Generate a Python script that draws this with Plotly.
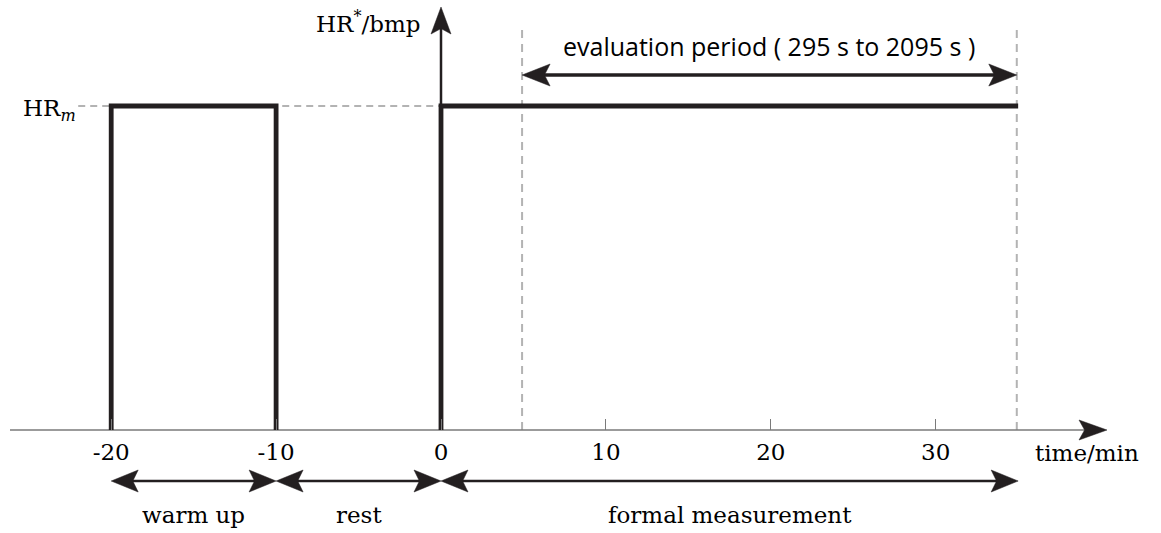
import plotly.graph_objects as go

# ---------------- data ----------------
warmup_x = [-20, -20, -10, -10]
warmup_y = [0, 1, 1, 0]
formal_x = [0, 0, 35]
formal_y = [0, 1, 1]
eval_start_s = 295
eval_end_s = 2095
phase_names = ["warm up", "rest", "formal measurement"]
phase_start = [-20, -10, 0]
phase_end = [-10, 0, 35]
tick_vals = [-20, -10, 0, 10, 20, 30]
tick_text = ["-20", "-10", "0", "10", "20", "30"]
hr_level = 1

# ---------------- geometry (pixel scale) ----------------
W, H = 1161, 533
X0PX, PXX = 441, 16.49      # pixel of x=0, px per minute
Y0PX, PXY = 430, 324        # pixel of y=0, px per HR unit
xr = [-X0PX / PXX, (W - X0PX) / PXX]
yr = [-(H - Y0PX) / PXY, Y0PX / PXY]

DARK = "#231f20"
GRAY_DASH = "#b3b3b3"
AX_GRAY = "#7a7a7a"
SERIF = "DejaVu Serif"

eval_start = eval_start_s / 60
eval_end = eval_end_s / 60

fig = go.Figure()


def line(xs, ys, width, color=DARK, dash=None):
    fig.add_trace(go.Scatter(x=xs, y=ys, mode="lines", hoverinfo="skip",
                             line=dict(color=color, width=width, dash=dash),
                             showlegend=False))


def head(tx, ty, ux, uy, L=27, Wd=11, notch=0.8):
    # ux, uy direction in "pixel-like" space (y up)
    nx, ny = -uy, ux
    px_tip = (tx * PXX, ty * PXY)
    bx, by = px_tip[0] - L * ux, px_tip[1] - L * uy
    pts = [px_tip,
           (bx + Wd * nx, by + Wd * ny),
           (px_tip[0] - notch * L * ux, px_tip[1] - notch * L * uy),
           (bx - Wd * nx, by - Wd * ny),
           px_tip]
    fig.add_trace(go.Scatter(x=[p[0] / PXX for p in pts], y=[p[1] / PXY for p in pts],
                             mode="lines", fill="toself", fillcolor=DARK,
                             line=dict(color=DARK, width=0.5), hoverinfo="skip",
                             showlegend=False))


# dashed reference lines
line([-22.0, 0], [hr_level, hr_level], 2, GRAY_DASH, "7px,5px")
y_dash_top = (Y0PX - 25) / PXY
for xv in [eval_start, eval_end]:
    line([xv, xv], [0, y_dash_top], 2, GRAY_DASH, "8px,6px")

# x axis line with arrow
x_ax_left = (10 - X0PX) / PXX
x_ax_tip = (1107 - X0PX) / PXX
line([x_ax_left, x_ax_tip - 20 / PXX], [0, 0], 1.5, AX_GRAY)
head(x_ax_tip, 0, 1, 0, L=28, Wd=10)

# y axis line with arrow
y_ax_tip = (Y0PX - 7) / PXY
line([0, 0], [0, y_ax_tip - 20 / PXY], 2.5, DARK)
head(0, y_ax_tip, 0, 1, L=27, Wd=10)

# heart-rate profile
line(warmup_x, warmup_y, 4.8)
line(formal_x, formal_y, 4.8)

# evaluation period arrow
y_eval = (Y0PX - 75) / PXY
line([eval_start + 20 / PXX, eval_end - 20 / PXX], [y_eval, y_eval], 3.5)
head(eval_start, y_eval, -1, 0, L=28, Wd=11)
head(eval_end, y_eval, 1, 0, L=28, Wd=11)
fig.add_annotation(x=(eval_start + eval_end) / 2, y=(Y0PX - 46) / PXY,
                   text=f"evaluation period ( {eval_start_s} s to {eval_end_s} s )",
                   showarrow=False, font=dict(family="Open Sans", size=25, color="black"),
                   xanchor="center", yanchor="middle")

# phase arrows
y_ph = (Y0PX - 481) / PXY
y_lab = (Y0PX - 515) / PXY
for name, s, e in zip(phase_names, phase_start, phase_end):
    line([s + 18 / PXX, e - 18 / PXX], [y_ph, y_ph], 2.5)
    head(s, y_ph, -1, 0, L=27, Wd=11)
    head(e, y_ph, 1, 0, L=27, Wd=11)
    fig.add_annotation(x=(s + e) / 2, y=y_lab, text=name, showarrow=False,
                       font=dict(family=SERIF, size=23, color="black"),
                       xanchor="center", yanchor="middle")

# axis labels
fig.add_annotation(x=(422 - X0PX) / PXX, y=(Y0PX - 22) / PXY, text="HR<sup>*</sup>/bmp",
                   showarrow=False, xanchor="right", yanchor="middle",
                   font=dict(family=SERIF, size=23, color="black"))
fig.add_annotation(x=(78 - X0PX) / PXX, y=hr_level - 4 / PXY, text="HR<sub><i>m</i></sub>",
                   showarrow=False, xanchor="right", yanchor="middle",
                   font=dict(family=SERIF, size=23, color="black"))
fig.add_annotation(x=(1033 - X0PX) / PXX, y=(Y0PX - 453) / PXY, text="time/min",
                   showarrow=False, xanchor="left", yanchor="middle",
                   font=dict(family=SERIF, size=23, color="black"))

axis_pos = (0 - yr[0]) / (yr[1] - yr[0])
fig.update_layout(
    width=W, height=H, margin=dict(l=0, r=0, t=0, b=0),
    paper_bgcolor="white", plot_bgcolor="white",
    xaxis=dict(range=xr, showgrid=False, zeroline=False, showline=False,
               tickvals=tick_vals, ticktext=tick_text, ticks="inside", ticklen=11,
               tickwidth=1, tickcolor=AX_GRAY, anchor="free", position=axis_pos,
               ticklabelstandoff=6,
               tickfont=dict(family=SERIF, size=23, color="black")),
    yaxis=dict(range=yr, visible=False),
)

fig.write_html("out.html", config={"displayModeBar": False},
               post_script="document.body.style.margin='0';document.body.style.overflow='hidden';")
